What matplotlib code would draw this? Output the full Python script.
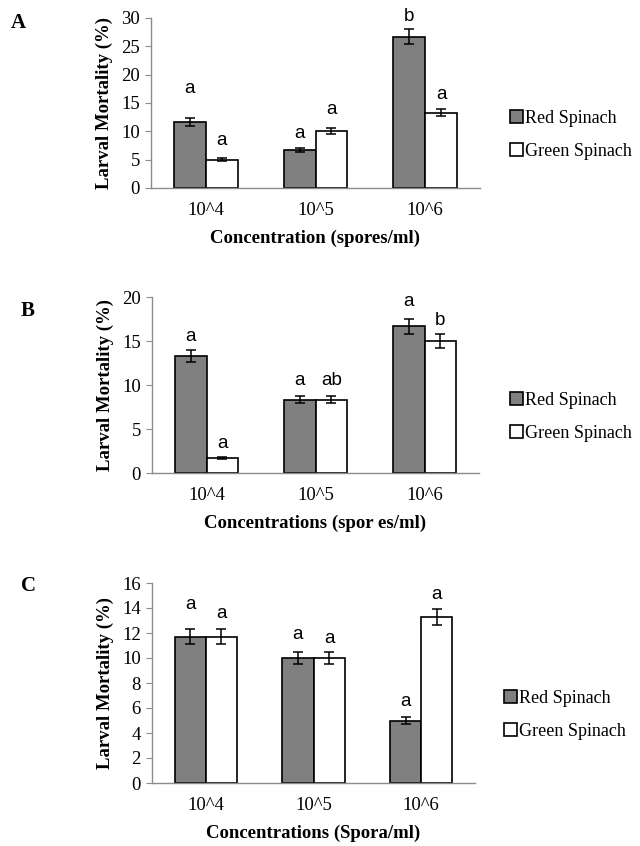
import matplotlib
matplotlib.use("Agg")
import matplotlib.pyplot as plt
import numpy as np

# Data
categories = ['10^4', '10^5', '10^6']
series = ['Red Spinach', 'Green Spinach']

red_a = [11.7, 6.7, 26.7]
red_a_err = [0.7, 0.3, 1.3]
green_a = [5.0, 10.0, 13.3]
green_a_err = [0.25, 0.5, 0.6]
red_a_letters = ['a', 'a', 'b']
green_a_letters = ['a', 'a', 'a']
red_a_letter_y = [16.1, 8.2, 28.8]
green_a_letter_y = [6.9, 12.3, 15.0]

red_b = [13.3, 8.3, 16.7]
red_b_err = [0.67, 0.4, 0.85]
green_b = [1.7, 8.3, 15.0]
green_b_err = [0.1, 0.4, 0.75]
red_b_letters = ['a', 'a', 'a']
green_b_letters = ['a', 'ab', 'b']
red_b_letter_y = [14.5, 9.6, 18.5]
green_b_letter_y = [2.4, 9.6, 16.4]

red_c = [11.7, 10.0, 5.0]
red_c_err = [0.6, 0.5, 0.25]
green_c = [11.7, 10.0, 13.3]
green_c_err = [0.6, 0.5, 0.65]
red_c_letters = ['a', 'a', 'a']
green_c_letters = ['a', 'a', 'a']
red_c_letter_y = [13.6, 11.2, 5.8]
green_c_letter_y = [12.9, 10.9, 14.4]

SERIF = ['Liberation Serif', 'DejaVu Serif']
SANS = ['Liberation Sans', 'DejaVu Sans']
AXIS_GRAY = '#8c8c8c'


def draw_panel(fig, rect, red, red_err, green, green_err, red_let, green_let,
               red_ly, green_ly, ymax, ystep, xlabel, panel, panel_xy, legend_xy):
    ax = fig.add_axes(rect)
    x = np.arange(len(categories))
    w = 0.29
    ax.bar(x - w / 2, red, w, color='#808080', edgecolor='black', linewidth=1.2,
           yerr=red_err, capsize=3.5, error_kw=dict(elinewidth=1.1, capthick=1.1),
           label=series[0], zorder=2)
    ax.bar(x + w / 2, green, w, color='white', edgecolor='black', linewidth=1.2,
           yerr=green_err, capsize=3.5, error_kw=dict(elinewidth=1.1, capthick=1.1),
           label=series[1], zorder=2)

    # significance letters
    for i in range(len(categories)):
        ax.text(x[i] - w / 2, red_ly[i], red_let[i], ha='center', va='bottom',
                fontsize=13.5, family=SANS)
        ax.text(x[i] + w / 2, green_ly[i], green_let[i], ha='center', va='bottom',
                fontsize=13.5, family=SANS)

    ax.set_xlim(-0.5, 2.5)
    ax.set_ylim(0, ymax)
    ax.set_yticks(np.arange(0, ymax + 0.1, ystep))
    ax.set_xticks(x)
    ax.set_xticklabels(categories)
    for lab in ax.get_xticklabels() + ax.get_yticklabels():
        lab.set_family(SERIF)
        lab.set_fontsize(13.5)
    ax.tick_params(axis='x', length=0, pad=10)
    ax.tick_params(axis='y', length=4, color=AXIS_GRAY, pad=4)

    for s in ['top', 'right']:
        ax.spines[s].set_visible(False)
    for s in ['left', 'bottom']:
        ax.spines[s].set_color(AXIS_GRAY)
        ax.spines[s].set_linewidth(1.0)

    ax.set_ylabel('Larval Mortality (%)', family=SERIF, fontweight='bold',
                  fontsize=13.5, labelpad=6)
    ax.set_xlabel(xlabel, family=SERIF, fontweight='bold', fontsize=13.5, labelpad=8)

    fig.text(panel_xy[0], panel_xy[1], panel, family=SERIF, fontweight='bold',
             fontsize=15, ha='center', va='center')

    ax.legend(loc='center left', bbox_to_anchor=legend_xy,
              bbox_transform=fig.transFigure, frameon=False,
              prop={'family': SERIF, 'size': 13}, handlelength=0.7,
              handleheight=0.7, handletextpad=0.15, labelspacing=0.9,
              borderpad=0, borderaxespad=0)
    return ax


fig = plt.figure(figsize=(6.4, 8.46), dpi=100)

draw_panel(fig, [151 / 640, 1 - 188 / 846, 329 / 640, 170 / 846],
           red_a, red_a_err, green_a, green_a_err, red_a_letters, green_a_letters,
           red_a_letter_y, green_a_letter_y, 30, 5,
           'Concentration (spores/ml)', 'A', (18 / 640, 1 - 23 / 846),
           (510 / 640, 1 - 135 / 846))

draw_panel(fig, [152 / 640, 1 - 473 / 846, 327 / 640, 176 / 846],
           red_b, red_b_err, green_b, green_b_err, red_b_letters, green_b_letters,
           red_b_letter_y, green_b_letter_y, 20, 5,
           'Concentrations (spor es/ml)', 'B', (28 / 640, 1 - 311 / 846),
           (510 / 640, 1 - 417 / 846))

draw_panel(fig, [152 / 640, 1 - 783 / 846, 323 / 640, 200 / 846],
           red_c, red_c_err, green_c, green_c_err, red_c_letters, green_c_letters,
           red_c_letter_y, green_c_letter_y, 16, 2,
           'Concentrations (Spora/ml)', 'C', (28 / 640, 1 - 586 / 846),
           (504 / 640, 1 - 715 / 846))

fig.savefig('out.png', dpi=100, facecolor='white')
